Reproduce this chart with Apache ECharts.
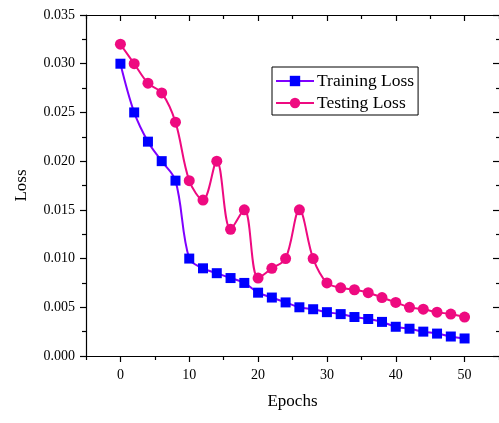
<!DOCTYPE html>
<html>
<head>
<meta charset="utf-8">
<script src="https://cdn.jsdelivr.net/npm/echarts@6/dist/echarts.min.js"></script>
<style>
html,body{margin:0;padding:0;background:#fff;}
#chart{width:499px;height:423px;}
</style>
</head>
<body>
<div id="chart"></div>
<script>
const epochs = [0,2,4,6,8,10,12,14,16,18,20,22,24,26,28,30,32,34,36,38,40,42,44,46,48,50];
const trainingLoss = [0.030,0.025,0.022,0.020,0.018,0.010,0.009,0.0085,0.008,0.0075,0.0065,0.006,0.0055,0.005,0.0048,0.0045,0.0043,0.004,0.0038,0.0035,0.003,0.0028,0.0025,0.0023,0.002,0.0018];
const testingLoss = [0.032,0.030,0.028,0.027,0.024,0.018,0.016,0.020,0.013,0.015,0.008,0.009,0.010,0.015,0.010,0.0075,0.007,0.0068,0.0065,0.006,0.0055,0.005,0.0048,0.0045,0.0043,0.004];
const xMajorTicks = [0,10,20,30,40,50];
const xMinorTicks = [-5,5,15,25,35,45,55];
const seriesNames = ['Training Loss','Testing Loss'];

const FONT = '"Liberation Serif","Times New Roman",serif';
const chart = echarts.init(document.getElementById('chart'));

function xAx(pos, ticks, len, inside, labels, line) {
  return {
    type:'value', position:pos, min:-5, max:55, interval:5,
    axisLine:{show:line, onZero:false, lineStyle:{color:'#000', width:1.2}},
    axisTick:{show:true, customValues:ticks, length:len, inside:inside, lineStyle:{color:'#000', width:1.2}},
    axisLabel:{show:labels, customValues:xMajorTicks, color:'#000', fontFamily:FONT, fontSize:14, margin:12},
    splitLine:{show:false}
  };
}

chart.setOption({
  animation:false,
  grid:{left:86, right:-1, top:15, bottom:67, containLabel:false},
  legend:{
    orient:'vertical', left:272, top:67,
    data:seriesNames,
    borderColor:'#000', borderWidth:1,
    padding:[5,4,3,3], itemGap:4,
    itemWidth:38, itemHeight:13,
    textStyle:{fontFamily:FONT, fontSize:17.5, color:'#000', padding:[0,0,0,-2]}
  },
  xAxis:[
    Object.assign(xAx('bottom', xMajorTicks, 6, false, true, true), {
      name:'Epochs', nameLocation:'middle', nameGap:37,
      nameTextStyle:{fontFamily:FONT, fontSize:17, color:'#000'}
    }),
    xAx('bottom', xMinorTicks, 4, false, false, false),
    xAx('top', xMajorTicks, 6, true, false, true),
    xAx('top', xMinorTicks, 4, true, false, false)
  ],
  yAxis:[
    {
      type:'value', position:'left', min:0, max:0.035, interval:0.005,
      name:'Loss', nameLocation:'middle', nameGap:56,
      nameTextStyle:{fontFamily:FONT, fontSize:17, color:'#000'},
      axisLine:{show:true, onZero:false, lineStyle:{color:'#000', width:1.2}},
      axisTick:{show:true, length:6, lineStyle:{color:'#000', width:1.2}},
      minorTick:{show:true, splitNumber:2, length:4, lineStyle:{color:'#000', width:1.2}},
      axisLabel:{color:'#000', fontFamily:FONT, fontSize:14, margin:11, formatter:v=>v.toFixed(3)},
      splitLine:{show:false}
    },
    {
      type:'value', position:'right', min:0, max:0.035, interval:0.005,
      axisLine:{show:false, onZero:false, lineStyle:{color:'#000', width:1.2}},
      axisTick:{show:true, inside:true, length:6, lineStyle:{color:'#000', width:1.2}},
      minorTick:{show:true, splitNumber:2, length:3, lineStyle:{color:'#000', width:1.2}},
      axisLabel:{show:false},
      splitLine:{show:false}
    }
  ],
  series:[
    {
      name:seriesNames[0], type:'line', smooth:0.35,
      data:epochs.map((e,i)=>[e, trainingLoss[i]]),
      symbol:'rect', symbolSize:10,
      itemStyle:{color:'#0000ff'},
      lineStyle:{color:'#7f00ff', width:2},
      z:3
    },
    {
      name:seriesNames[1], type:'line', smooth:0.35,
      data:epochs.map((e,i)=>[e, testingLoss[i]]),
      symbol:'circle', symbolSize:11,
      itemStyle:{color:'#ee0a80'},
      lineStyle:{color:'#ee0a80', width:2},
      z:2
    }
  ]
});
</script>
</body>
</html>
